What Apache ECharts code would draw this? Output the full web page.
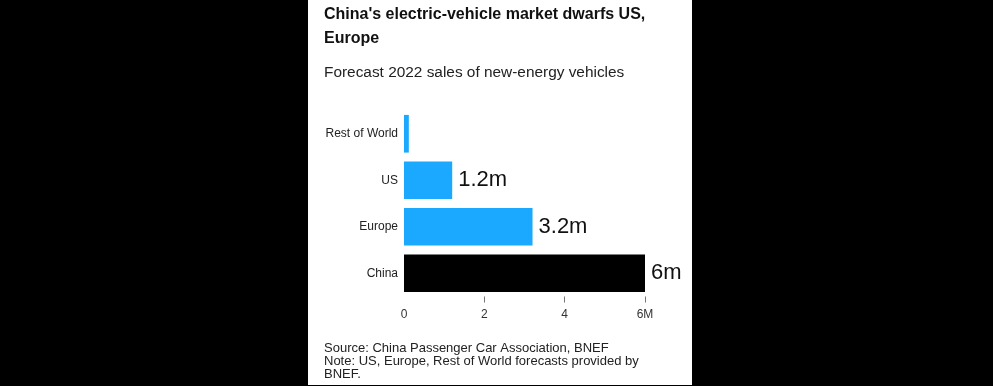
<!DOCTYPE html>
<html>
<head>
<meta charset="utf-8">
<script src="https://cdn.jsdelivr.net/npm/echarts@6/dist/echarts.min.js"></script>
<style>
html,body{margin:0;padding:0;background:#000;}
#c{width:993px;height:386px;}
</style>
</head>
<body>
<div id="c"></div>
<script>
const categories = ['China', 'Europe', 'US', 'Rest of World'];
const values = [6, 3.2, 1.2, 0.12];
const valueLabels = ['6m', '3.2m', '1.2m', ''];
const barColors = ['#000000', '#1ba8ff', '#1ba8ff', '#1ba8ff'];
const xTicks = [0, 2, 4, 6];
const xTickMarks = [2, 4, 6];
const xTickText = ['0', '2', '4', '6M'];

const FONT = '"Liberation Sans", Arial, Helvetica, sans-serif';
const chart = echarts.init(document.getElementById('c'), null, {renderer: 'canvas'});
chart.setOption({
  backgroundColor: '#000',
  animation: false,
  graphic: [{
    type: 'rect', z: -10, silent: true,
    shape: {x: 308, y: 0, width: 384, height: 385},
    style: {fill: '#ffffff'}
  }],
  title: [{
    text: "China's electric-vehicle market dwarfs US,\nEurope",
    left: 324, top: 3, padding: 0,
    textStyle: {fontFamily: FONT, fontSize: 16, fontWeight: 'bold', color: '#111', lineHeight: 24}
  }, {
    text: 'Forecast 2022 sales of new-energy vehicles',
    left: 324, top: 64, padding: 0,
    textStyle: {fontFamily: FONT, fontSize: 15.4, fontWeight: 'normal', color: '#222', lineHeight: 18}
  }, {
    text: 'Source: China Passenger Car Association, BNEF\nNote: US, Europe, Rest of World forecasts provided by\nBNEF.',
    left: 324, top: 341.5, padding: 0,
    textStyle: {fontFamily: FONT, fontSize: 13, fontWeight: 'normal', color: '#222', lineHeight: 13.3}
  }],
  grid: {left: 404, right: 348, top: 110.5, bottom: 89.5, containLabel: false},
  xAxis: {
    type: 'value', min: 0, max: 6, interval: 2,
    splitLine: {show: false},
    axisLine: {show: false},
    axisTick: {show: true, length: 6, customValues: xTickMarks, lineStyle: {color: '#777', width: 1}},
    axisLabel: {
      margin: 12, color: '#333', fontFamily: FONT, fontSize: 12,
      customValues: xTicks,
      formatter: function (v) { const i = xTicks.indexOf(v); return i >= 0 ? xTickText[i] : ''; }
    }
  },
  yAxis: {
    type: 'category', data: categories,
    axisLine: {show: false}, axisTick: {show: false},
    axisLabel: {margin: 6, color: '#222', fontFamily: FONT, fontSize: 12}
  },
  series: [{
    type: 'bar',
    barCategoryGap: '19%',
    data: values.map((v, i) => ({value: v, itemStyle: {color: barColors[i]}})),
    label: {
      show: true, position: 'right', distance: 6,
      fontFamily: FONT, fontSize: 22, color: '#111',
      formatter: p => valueLabels[p.dataIndex]
    }
  }]
});
</script>
</body>
</html>
